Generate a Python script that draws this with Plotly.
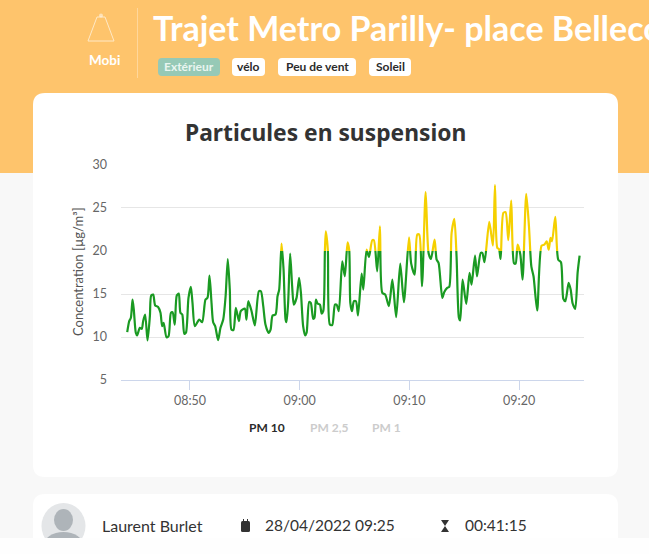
import pandas as pd
import plotly.graph_objects as go

W, H = 649, 554

# PM 10 readings: seconds after 08:00:00 on 28/04/2022, and concentration in ug/m3
seconds_after_8h = [
    2657, 2668, 2677, 2686, 2693, 2704, 2711, 2726, 2737, 2744, 2755, 2768, 2781, 2788, 2799, 2810,
    2826, 2839, 2848, 2856, 2872, 2883, 2896, 2905, 2917, 2928, 2939, 2948, 2958, 2969, 2978, 2992,
    3005, 3014, 3027, 3051, 3067, 3085, 3096, 3107, 3118, 3127, 3138, 3154, 3167, 3182, 3195, 3207,
    3218, 3227, 3238, 3251, 3268, 3278, 3300, 3309, 3319, 3337, 3355, 3377, 3388, 3401, 3413, 3430,
    3441, 3452, 3468, 3479, 3488, 3501, 3512, 3523, 3528, 3537, 3548, 3559, 3568, 3583, 3597, 3607,
    3619, 3630, 3638, 3652, 3661, 3674, 3681, 3689, 3698, 3711, 3720, 3729, 3738, 3743, 3754, 3765,
    3778, 3793, 3802, 3814, 3833, 3847, 3862, 3871, 3877, 3886, 3897, 3908, 3919, 3939, 3948, 3966,
    3979, 3997, 4006, 4024, 4039, 4052, 4068, 4088, 4107, 4128, 4150, 4170, 4198, 4210, 4229, 4243,
    4254, 4269, 4289, 4305, 4318, 4338, 4349, 4360, 4380, 4391, 4407, 4418, 4431, 4446, 4458, 4471,
    4478, 4491, 4511, 4529, 4540, 4559, 4570, 4590, 4599, 4611, 4637, 4657, 4668, 4681, 4690, 4699,
    4714, 4726, 4741, 4757, 4772, 4781, 4792, 4807, 4819, 4839, 4854, 4867, 4879, 4899, 4923, 4938,
    4951, 4962, 4972, 4980, 4998, 5014, 5029, 5042, 5053, 5071, 5082, 5093, 5107, 5120, 5131,
]
pm10 = [
    10.56, 11.84, 12.23, 14.35, 13.19, 10.49, 10.18, 11.07, 10.95, 11.84, 12.61, 9.6, 12.42, 14.82, 14.93, 13.66,
    13.5, 12.81, 11.26, 11.65, 9.98, 10.1, 12.81, 12.88, 11.45, 14.82, 15.05, 12.81, 12.61, 10.37, 10.49, 14.55,
    15.82, 13.97, 11.26, 12.03, 11.72, 14.35, 14.55, 17.14, 13.97, 11.72, 11.26, 9.64, 11.07, 12.03, 14.74, 19.07,
    15.51, 10.87, 10.8, 13.39, 11.84, 13.0, 13.31, 12.03, 14.16, 13.0, 11.34, 15.32, 15.32, 13.58, 11.45, 10.49,
    10.87, 12.5, 12.61, 14.74, 15.51, 20.85, 17.83, 12.03, 11.72, 13.97, 19.69, 15.9, 13.77, 14.55, 16.87, 15.13,
    11.26, 10.18, 10.49, 14.08, 13.97, 12.11, 12.23, 14.35, 13.89, 13.77, 12.73, 13.0, 19.96, 22.28, 20.15, 11.45,
    11.38, 13.77, 13.77, 13.0, 18.8, 17.06, 21.0, 20.1, 13.97, 13.0, 14.16, 14.16, 12.5, 17.37, 15.51, 20.15,
    19.3, 21.24, 21.24, 17.64, 22.86, 15.13, 14.93, 13.58, 16.67, 12.3, 18.53, 14.04, 21.59, 18.53, 17.25, 21.89,
    21.89, 15.9, 26.81, 19.77, 19.07, 21.31, 19.0, 18.6, 14.55, 15.24, 15.71, 15.82, 22.09, 23.71, 19.38, 12.23,
    11.92, 16.67, 13.85, 17.45, 16.1, 19.46, 17.06, 19.77, 19.77, 18.69, 23.36, 20.62, 27.62, 20.35, 20.23, 19.07,
    24.41, 24.49, 21.24, 25.84, 18.6, 18.53, 20.73, 19.57, 16.67, 26.61, 22.86, 18.22, 17.06, 13.08, 20.62, 20.73,
    21.12, 20.15, 21.51, 21.12, 23.94, 19.0, 18.69, 14.43, 14.16, 16.29, 15.51, 13.89, 13.27, 17.45, 19.46,
]
threshold = 20
low_ticks = [5, 10, 15, 20]
high_ticks = [25, 30]
time_ticks = ["08:50", "09:00", "09:10", "09:20"]
legend_labels = ["PM 10", "PM 2,5", "PM 1"]
pill_labels = ["Extérieur", "vélo", "Peu de vent", "Soleil"]

DAY = "2022-04-28 "
times = pd.Timestamp(DAY + "08:00:00") + pd.to_timedelta(seconds_after_8h, unit="s")
FONT = "Lato, sans-serif"
GREEN, YELLOW = "#1a9a22", "#f5d000"


def fx(p):
    return p / W


def fy(p):
    return 1 - p / H


def rrect(x0, y0, x1, y1, r, fill, layer="below"):
    a, b, c, d = fx(x0), fy(y0), fx(x1), fy(y1)
    rx, ry = r / W, r / H
    path = (
        f"M{a + rx},{b} L{c - rx},{b} Q{c},{b} {c},{b - ry} L{c},{d + ry} Q{c},{d} {c - rx},{d} "
        f"L{a + rx},{d} Q{a},{d} {a},{d + ry} L{a},{b - ry} Q{a},{b} {a + rx},{b} Z"
    )
    return dict(type="path", xref="paper", yref="paper", path=path, fillcolor=fill, line_width=0, layer=layer)


def poly(points, fill="rgba(0,0,0,0)", line=None, width=1, layer="below"):
    path = "M" + " L".join(f"{fx(x)},{fy(y)}" for x, y in points) + " Z"
    return dict(type="path", xref="paper", yref="paper", path=path, fillcolor=fill,
                line=dict(color=line or "rgba(0,0,0,0)", width=width), layer=layer)


def circle(cx, cy, rx, ry, fill, layer="below"):
    return dict(type="circle", xref="paper", yref="paper", x0=fx(cx - rx), x1=fx(cx + rx),
                y0=fy(cy + ry), y1=fy(cy - ry), fillcolor=fill, line_width=0, layer=layer)


def box(x0, y0, x1, y1, fill, layer="below"):
    return dict(type="rect", xref="paper", yref="paper", x0=fx(x0), x1=fx(x1), y0=fy(y1), y1=fy(y0),
                fillcolor=fill, line_width=0, layer=layer)


def text(s, x, y, size, color, bold=False, anchor="center", angle=0, family=FONT):
    return dict(text=f"<b>{s}</b>" if bold else s, x=fx(x), y=fy(y), xref="paper", yref="paper",
                xanchor=anchor, yanchor="middle", showarrow=False, textangle=angle,
                font=dict(family=family, size=size, color=color))


shapes = [
    box(0, 0, W, 173, "#fec46c"),
    box(137, 8, 138, 78, "#ffd79b"),
    poly([(97, 17), (105, 17), (114, 41), (88, 41)], line="#ffe9c6", width=1),
    circle(101, 15.5, 2, 2, "rgba(255,255,255,0.5)"),
    rrect(33, 93, 618, 477, 12, "#ffffff"),
    rrect(33, 494, 618, 554, 12, "#ffffff"),
    circle(63.5, 526, 22, 23, "#e4e6e8"),
    circle(63.5, 520, 9.5, 11, "#aeb4b9"),
    circle(63.5, 546, 20, 14, "#aeb4b9"),
    box(0, 538, W, H, "#fefefe"),
    # calendar and hourglass icons
    rrect(241, 521, 250, 532, 1.5, "#333333"),
    box(243, 519, 244, 522, "#333333"),
    box(247, 519, 248, 522, "#333333"),
    poly([(441, 520), (449, 520), (445, 526)], fill="#333333"),
    poly([(441, 532), (449, 532), (445, 526)], fill="#333333"),
]
for x0, x1, fill in [(158, 220, "#96c9b6"), (232, 265, "#ffffff"), (278, 356, "#ffffff"), (369, 411, "#ffffff")]:
    shapes.append(rrect(x0, 58, x1, 76, 4, fill))

annotations = [
    text("Trajet Metro Parilly- place Bellecour", 151, 27, 34, "#ffffff", True, "left"),
    text("Mobi", 104, 60, 13.5, "#ffffff", True),
    text(pill_labels[0], 189, 67, 12, "#e9f5f0", True),
    text(pill_labels[1], 248.5, 67, 12, "#2b2b2b", True),
    text(pill_labels[2], 317, 67, 12, "#2b2b2b", True),
    text(pill_labels[3], 390, 67, 12, "#2b2b2b", True),
    text("Particules en suspension", 325, 132, 22.8, "#333333", True, family="Noto Sans, sans-serif"),
    text("Concentration [µg/m³]", 78, 272, 13, "#555555", False, "center", -90),
    text(legend_labels[0], 267, 427, 12, "#2b2b2b", True),
    text(legend_labels[1], 329, 427, 12, "#cccccc", True),
    text(legend_labels[2], 386, 427, 12, "#cccccc", True),
    text("Laurent Burlet", 100, 525, 16, "#333333", False, "left"),
    text("28/04/2022 09:25", 263, 525, 15.5, "#333333", False, "left"),
    text("00:41:15", 463, 525, 15.5, "#333333", False, "left"),
]

fig = go.Figure()
line_style = dict(shape="spline", smoothing=0.7, width=2.2)
# Same series on two stacked axes: each panel clips the line to its own colour zone.
fig.add_trace(go.Scatter(x=times, y=pm10, mode="lines", line=dict(color=GREEN, **line_style),
                         yaxis="y", name=legend_labels[0], showlegend=False))
fig.add_trace(go.Scatter(x=times, y=pm10, mode="lines", line=dict(color=YELLOW, **line_style),
                         yaxis="y2", name=legend_labels[0], showlegend=False))

tick_font = dict(family=FONT, size=12.5, color="#666666")
fig.update_layout(
    width=W, height=H, autosize=False, margin=dict(l=0, r=0, t=0, b=0, autoexpand=False),
    paper_bgcolor="#f8f8f8", plot_bgcolor="rgba(0,0,0,0)",
    shapes=shapes, annotations=annotations, showlegend=False,
    xaxis=dict(
        type="date", domain=[fx(121), fx(584)],
        range=[DAY + "08:43:43", DAY + "09:25:55"],
        tickvals=[DAY + t + ":00" for t in time_ticks], ticktext=time_ticks,
        ticks="outside", ticklen=9, tickcolor="#ccd6eb", tickwidth=1,
        showline=True, linecolor="#ccd6eb", linewidth=1, showgrid=False,
        tickfont=tick_font, anchor="y",
    ),
    yaxis=dict(
        domain=[fy(380), fy(251)], range=[low_ticks[0], threshold], tickvals=low_ticks,
        gridcolor="#e6e6e6", gridwidth=1, zeroline=False, showline=False, ticks="",
        ticklabelstandoff=13, tickfont=tick_font, anchor="x",
    ),
    yaxis2=dict(
        domain=[fy(251), fy(164.5)], range=[threshold, high_ticks[-1]], tickvals=high_ticks,
        gridcolor="#e6e6e6", gridwidth=1, zeroline=False, showline=False, ticks="",
        ticklabelstandoff=13, tickfont=tick_font, anchor="x",
    ),
)
fig.write_html("out.html", config={"displayModeBar": False},
               post_script="document.body.style.margin='0';")
